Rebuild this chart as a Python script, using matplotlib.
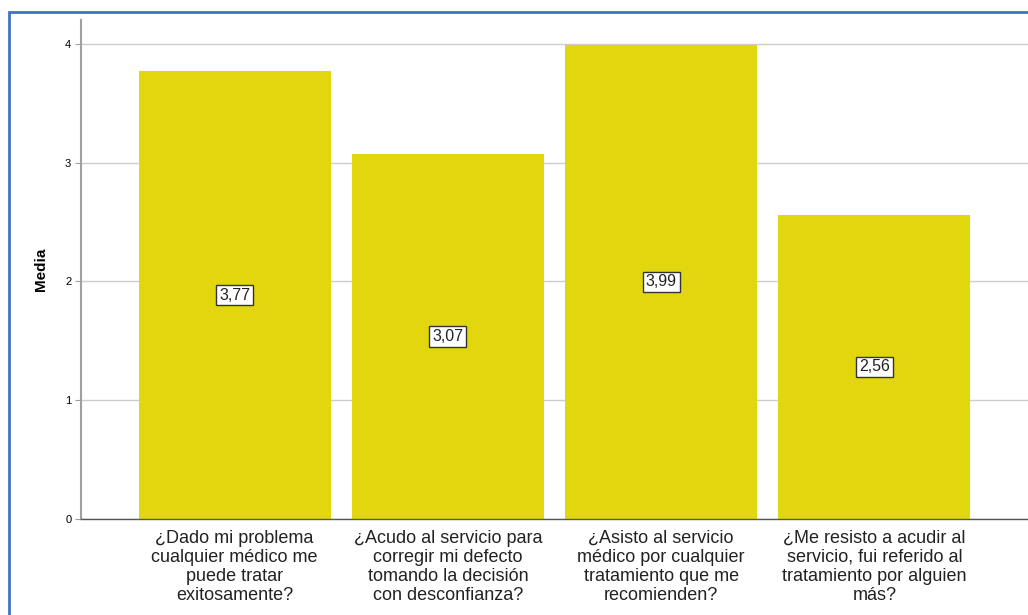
import matplotlib.pyplot as plt
from matplotlib.patches import Rectangle

# data
categories = [
    '¿Dado mi problema\ncualquier médico me\npuede tratar\nexitosamente?',
    '¿Acudo al servicio para\ncorregir mi defecto\ntomando la decisión\ncon desconfianza?',
    '¿Asisto al servicio\nmédico por cualquier\ntratamiento que me\nrecomienden?',
    '¿Me resisto a acudir al\nservicio, fui referido al\ntratamiento por alguien\nmás?',
]
means = [3.77, 3.07, 3.99, 2.56]
value_labels = ['3,77', '3,07', '3,99', '2,56']

plt.rcParams['font.family'] = ['Liberation Sans', 'DejaVu Sans']

fig = plt.figure(figsize=(10.28, 6.15), dpi=100)
ax = fig.add_axes([81 / 1028, 1 - 519 / 615, (1028 - 81) / 1028, 499 / 615])

x = range(len(categories))
ax.bar(x, means, width=0.9, color='#E2D70E', zorder=2)

for i, (v, lab) in enumerate(zip(means, value_labels)):
    ax.text(i, v / 2, lab, ha='center', va='center', fontsize=11.5, color='#222222',
            bbox=dict(boxstyle='square,pad=0.18', fc='white', ec='#333333', lw=1), zorder=3)

ax.set_xlim(-0.72, 3.72)
ax.set_ylim(0, 4.2)
ax.set_yticks([0, 1, 2, 3, 4])
ax.set_xticks(list(x))
ax.set_xticklabels(categories, fontsize=13, color='#222222', linespacing=1.14)
ax.tick_params(axis='x', length=0, pad=8)
ax.tick_params(axis='y', length=4, labelsize=8, color='#A0A0A0', pad=3)
ax.grid(axis='y', color='#CCCCCC', lw=1, zorder=0)

for s in ['top', 'right']:
    ax.spines[s].set_visible(False)
ax.spines['left'].set_color('#A0A0A0')
ax.spines['left'].set_linewidth(1.5)
ax.spines['bottom'].set_color('#555555')
ax.spines['bottom'].set_linewidth(1)

ax.set_ylabel('Media', fontsize=11, fontweight='bold', labelpad=12)

# blue frame around the chart
fig.patches.append(Rectangle((9 / 1028, -0.1), 1.2, 1 - 12 / 615 + 0.1,
                             transform=fig.transFigure, fill=False,
                             ec='#4472C4', lw=2))

fig.savefig('out.png', dpi=100)
